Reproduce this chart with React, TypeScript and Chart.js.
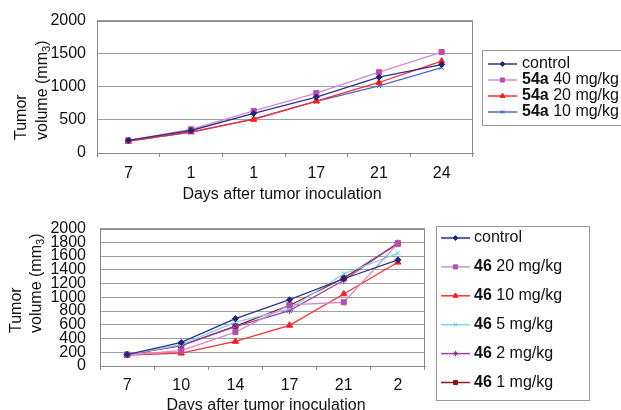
import React, { useEffect, useRef } from "react";
import { Chart, registerables } from "chart.js";
import { drawPoint } from "chart.js/helpers";

Chart.register(...registerables);

// ---------- data ----------
const topDays = ["7", "1", "1", "17", "21", "24"];
const topCompound = "54a";
const topSeriesNames = ["control", "40 mg/kg", "20 mg/kg", "10 mg/kg"];
const topControl = [190, 340, 598, 845, 1145, 1335];
const top54a40 = [192, 357, 635, 905, 1220, 1525];
const top54a20 = [175, 318, 507, 783, 1065, 1387];
const top54a10 = [182, 310, 515, 780, 1014, 1290];
const topYTicks = { min: 0, max: 2000, step: 500 };

const botDays = ["7", "10", "14", "17", "21", "2"];
const botCompound = "46";
const botSeriesNames = ["control", "20 mg/kg", "10 mg/kg", "5 mg/kg", "2 mg/kg", "1 mg/kg"];
const botControl = [167, 343, 690, 965, 1270, 1545];
const bot46_20 = [160, 224, 494, 890, 928, 1782];
const bot46_10 = [160, 186, 357, 591, 1048, 1510];
const bot46_5 = [165, 310, 638, 832, 1343, 1640];
const bot46_2 = [165, 300, 572, 806, 1249, 1792];
const bot46_1 = [165, 296, 581, 881, 1281, 1782];
const botYTicks = { min: 0, max: 2000, step: 200 };

const xTitle = "Days after tumor inoculation";
const yTitle1 = "Tumor";
const yTitle2a = "volume (mm";
const yTitle2sub = "3";
const yTitle2b = ")";

const FONT = "'Liberation Sans', Arial, Helvetica, sans-serif";

type Style = {
  line: string;
  fill: string;
  stroke: string;
  pointStyle: string;
  radius: number;
};

const topStyles: Style[] = [
  { line: "#2E3388", fill: "#1F2478", stroke: "#1F2478", pointStyle: "rectRot", radius: 3 },
  { line: "#D48AD0", fill: "#BA4DAE", stroke: "#BA4DAE", pointStyle: "rect", radius: 3.6 },
  { line: "#FF2B2B", fill: "#FF1A1A", stroke: "#FF1A1A", pointStyle: "triangle", radius: 3.6 },
  { line: "#4A68CC", fill: "#4A68CC", stroke: "#3F5CC0", pointStyle: "crossRot", radius: 3.3 },
];

const botStyles: Style[] = [
  { line: "#2E3388", fill: "#1F2478", stroke: "#1F2478", pointStyle: "rectRot", radius: 3 },
  { line: "#D48AD0", fill: "#BA4DAE", stroke: "#BA4DAE", pointStyle: "rect", radius: 3.6 },
  { line: "#FF3030", fill: "#FF1A1A", stroke: "#FF1A1A", pointStyle: "triangle", radius: 3.6 },
  { line: "#7AD6E8", fill: "#6CCFE3", stroke: "#5CC8E0", pointStyle: "crossRot", radius: 3.3 },
  { line: "#9A43A2", fill: "#8A3596", stroke: "#8A3596", pointStyle: "star", radius: 3.5 },
  { line: "#8C1C1C", fill: "#861616", stroke: "#861616", pointStyle: "rect", radius: 3.6 },
];

type Cfg = {
  labels: string[];
  series: number[][];
  names: string[];
  compound: string;
  styles: Style[];
  yTicks: { min: number; max: number; step: number };
  padTop: number;
  padRight: number;
  yWidth: number;
  xHeight: number;
  yPad: number;
  xPad: number;
  xTitleX: number;
  xTitleBase: number;
  tumorX: number;
  volumeX: number;
  yTitleStart: number;
  legendBox: [number, number, number, number];
  legendLineX0: number;
  legendLineX1: number;
  legendTextX: number;
  legendY0: number;
  legendDy: number;
};

const topCfg: Cfg = {
  labels: topDays,
  series: [topControl, top54a40, top54a20, top54a10],
  names: topSeriesNames,
  compound: topCompound,
  styles: topStyles,
  yTicks: topYTicks,
  padTop: 15,
  padRight: 148,
  yWidth: 97,
  xHeight: 52,
  yPad: 11,
  xPad: 7,
  xTitleX: 282,
  xTitleBase: 199,
  tumorX: 22,
  volumeX: 43,
  yTitleStart: 140,
  legendBox: [482.5, 50.5, 200, 75],
  legendLineX0: 488,
  legendLineX1: 517,
  legendTextX: 522,
  legendY0: 64,
  legendDy: 16,
};

const botCfg: Cfg = {
  labels: botDays,
  series: [botControl, bot46_20, bot46_10, bot46_5, bot46_2, bot46_1],
  names: botSeriesNames,
  compound: botCompound,
  styles: botStyles,
  yTicks: botYTicks,
  padTop: 21,
  padRight: 196,
  yWidth: 100,
  xHeight: 44,
  yPad: 14,
  xPad: 6,
  xTitleX: 266,
  xTitleBase: 205,
  tumorX: 17,
  volumeX: 37,
  yTitleStart: 128,
  legendBox: [436.5, 21.5, 153, 174],
  legendLineX0: 441,
  legendLineX1: 470,
  legendTextX: 474,
  legendY0: 33,
  legendDy: 28.9,
};

function decorPlugin(cfg: Cfg) {
  return {
    id: "decor",
    afterDraw(chart: any) {
      const ctx: CanvasRenderingContext2D = chart.ctx;
      const a = chart.chartArea;
      ctx.save();
      // plot frame
      ctx.strokeStyle = "#8a8a8a";
      ctx.lineWidth = 1;
      ctx.strokeRect(
        Math.round(a.left) + 0.5,
        Math.round(a.top) + 0.5,
        Math.round(a.right - a.left) - 1,
        Math.round(a.bottom - a.top)
      );

      // x title
      ctx.fillStyle = "#111";
      ctx.font = `16px ${FONT}`;
      ctx.textAlign = "center";
      ctx.textBaseline = "alphabetic";
      ctx.fillText(xTitle, cfg.xTitleX, cfg.xTitleBase);

      // y title (rotated, two lines, start-aligned at bottom)
      ctx.save();
      ctx.translate(cfg.tumorX, cfg.yTitleStart);
      ctx.rotate(-Math.PI / 2);
      ctx.textAlign = "left";
      ctx.textBaseline = "middle";
      ctx.font = `16px ${FONT}`;
      ctx.fillText(yTitle1, 0, 0);
      ctx.restore();

      ctx.save();
      ctx.translate(cfg.volumeX, cfg.yTitleStart);
      ctx.rotate(-Math.PI / 2);
      ctx.textAlign = "left";
      ctx.textBaseline = "middle";
      ctx.font = `16px ${FONT}`;
      ctx.fillText(yTitle2a, 0, 0);
      let w = ctx.measureText(yTitle2a).width;
      ctx.font = `11px ${FONT}`;
      ctx.fillText(yTitle2sub, w, 4);
      w += ctx.measureText(yTitle2sub).width;
      ctx.font = `16px ${FONT}`;
      ctx.fillText(yTitle2b, w, 0);
      ctx.restore();

      // legend
      const [bx, by, bw, bh] = cfg.legendBox;
      ctx.strokeStyle = "#9a9a9a";
      ctx.lineWidth = 1;
      ctx.strokeRect(bx, by, bw, bh);
      cfg.names.forEach((name, i) => {
        const st = cfg.styles[i];
        const y = cfg.legendY0 + i * cfg.legendDy;
        ctx.strokeStyle = st.line;
        ctx.lineWidth = 1.5;
        ctx.beginPath();
        ctx.moveTo(cfg.legendLineX0, y);
        ctx.lineTo(cfg.legendLineX1, y);
        ctx.stroke();
        ctx.fillStyle = st.fill;
        ctx.strokeStyle = st.stroke;
        ctx.lineWidth = 1;
        drawPoint(
          ctx,
          { pointStyle: st.pointStyle as any, radius: st.radius * 0.8, rotation: 0, borderWidth: 1 } as any,
          (cfg.legendLineX0 + cfg.legendLineX1) / 2,
          y
        );
        ctx.fillStyle = "#111";
        ctx.textAlign = "left";
        ctx.textBaseline = "middle";
        let x = cfg.legendTextX;
        if (i > 0) {
          ctx.font = `bold 16px ${FONT}`;
          ctx.fillText(cfg.compound, x, y);
          x += ctx.measureText(cfg.compound + " ").width;
        }
        ctx.font = `16px ${FONT}`;
        ctx.fillText(name, x, y);
      });
      ctx.restore();
    },
  };
}

function makeChart(canvas: HTMLCanvasElement, cfg: Cfg) {
  const tickFont = { family: FONT, size: 16 };
  return new Chart(canvas, {
    type: "line",
    data: {
      labels: cfg.labels,
      datasets: cfg.series.map((d, i) => ({
        label: (i > 0 ? cfg.compound + " " : "") + cfg.names[i],
        data: d,
        borderColor: cfg.styles[i].line,
        backgroundColor: cfg.styles[i].fill,
        pointBackgroundColor: cfg.styles[i].fill,
        pointBorderColor: cfg.styles[i].stroke,
        pointStyle: cfg.styles[i].pointStyle as any,
        pointRadius: cfg.styles[i].radius,
        pointBorderWidth: 1,
        borderWidth: 1.3,
        tension: 0,
        fill: false,
      })),
    },
    options: {
      responsive: false,
      maintainAspectRatio: false,
      animation: false,
      devicePixelRatio: 1,
      layout: { padding: { top: cfg.padTop, right: cfg.padRight, left: 0, bottom: 0 } },
      plugins: { legend: { display: false }, tooltip: { enabled: false } },
      scales: {
        x: {
          type: "category",
          offset: true,
          grid: {
            drawOnChartArea: false,
            drawTicks: true,
            tickLength: 4,
            color: "#8a8a8a",
            offset: true,
          },
          border: { color: "#8a8a8a" },
          ticks: {
            padding: cfg.xPad,
            color: "#111",
            font: tickFont,
            maxRotation: 0,
            autoSkip: false,
          },
          afterFit: (s: any) => {
            s.height = cfg.xHeight;
          },
        },
        y: {
          type: "linear",
          min: cfg.yTicks.min,
          max: cfg.yTicks.max,
          ticks: {
            stepSize: cfg.yTicks.step,
            autoSkip: false,
            padding: cfg.yPad,
            color: "#111",
            font: tickFont,
            callback: (v: any) => String(v),
          },
          grid: { color: "#a0a0a0", drawTicks: false },
          border: { color: "#8a8a8a" },
          afterFit: (s: any) => {
            s.width = cfg.yWidth;
          },
        },
      },
    } as any,
    plugins: [decorPlugin(cfg)],
  });
}

function ChartBox({ cfg, top }: { cfg: Cfg; top: number }) {
  const ref = useRef<HTMLCanvasElement | null>(null);
  useEffect(() => {
    if (!ref.current) return;
    const chart = makeChart(ref.current, cfg);
    return () => chart.destroy();
  }, [cfg]);
  return (
    <div style={{ position: "absolute", left: 0, top, width: 621, height: 205 }}>
      <canvas ref={ref} width={621} height={205} style={{ display: "block" }} />
    </div>
  );
}

export default function App() {
  return (
    <div style={{ position: "absolute", left: 0, top: 0, width: 621, height: 410, background: "#fff", overflow: "hidden" }}>
      <ChartBox cfg={topCfg} top={0} />
      <ChartBox cfg={botCfg} top={205} />
    </div>
  );
}
